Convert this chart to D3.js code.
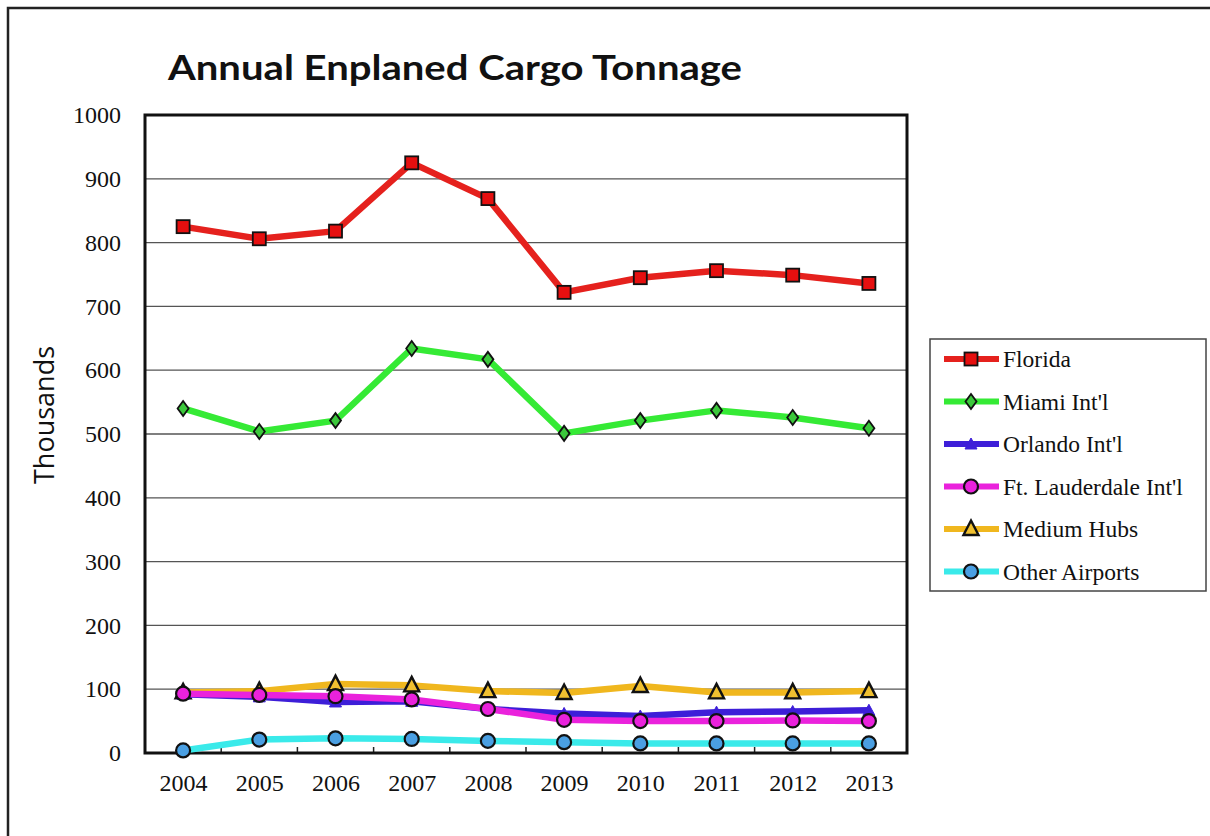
<!DOCTYPE html>
<html><head><meta charset="utf-8">
<script src="https://cdn.jsdelivr.net/npm/d3@7"></script>
<style>body{margin:0;background:#fff}svg{display:block}</style>
</head><body>
<svg id="c" width="1210" height="836"></svg>
<script>
const years = ["2004","2005","2006","2007","2008","2009","2010","2011","2012","2013"];
const florida = [825, 806, 818, 925, 869, 722, 745, 756, 749, 736];
const miami = [540, 504, 521, 634, 617, 501, 521, 537, 526, 509];
const orlando = [92, 88, 80, 81, 69, 62, 58, 64, 65, 67];
const lauderdale = [93, 91, 89, 84, 69, 52, 50, 50, 51, 50];
const mediumHubs = [95, 97, 108, 106, 97, 94, 105, 95, 95, 97];
const otherAirports = [4, 21, 23, 22, 19, 17, 15, 15, 15, 15];
const yTicks = [0,100,200,300,400,500,600,700,800,900,1000];
const seriesNames = ["Florida","Miami Int'l","Orlando Int'l","Ft. Lauderdale Int'l","Medium Hubs","Other Airports"];

const series = [
  {name: seriesNames[0], values: florida, line:"#e5211d", fill:"#e60f0f", sym:"square"},
  {name: seriesNames[1], values: miami, line:"#35ea35", fill:"#3cc83c", sym:"diamond"},
  {name: seriesNames[2], values: orlando, line:"#3d1ed8", fill:"#3d1ed8", sym:"smalltri"},
  {name: seriesNames[3], values: lauderdale, line:"#ea22dc", fill:"#ea22dc", sym:"circle"},
  {name: seriesNames[4], values: mediumHubs, line:"#f0b71e", fill:"#f0c030", sym:"triangle"},
  {name: seriesNames[5], values: otherAirports, line:"#3aeaea", fill:"#4a9fe2", sym:"circle"}
];

const svg = d3.select("#c");
const L = 145, R = 907, T = 115, B = 753;
const x = d3.scalePoint().domain(years).range([L, R]).padding(0.5);
const y = d3.scaleLinear().domain([0, 1000]).range([B, T]);

// outer frame
svg.append("rect").attr("x",8).attr("y",8).attr("width",1220).attr("height",840)
  .attr("fill","none").attr("stroke","#222").attr("stroke-width",2.5);

// title
svg.append("text").attr("x",168).attr("y",80).attr("font-family","Lato, 'Open Sans', sans-serif")
  .attr("font-weight","bold").attr("font-size",34).attr("fill","#111")
  .attr("textLength",574).attr("lengthAdjust","spacingAndGlyphs")
  .text("Annual Enplaned Cargo Tonnage");

// gridlines
svg.append("g").selectAll("line").data(yTicks.filter(d=>d>0 && d<1000)).join("line")
  .attr("x1",L).attr("x2",R).attr("y1",d=>y(d)).attr("y2",d=>y(d))
  .attr("stroke","#555").attr("stroke-width",1.3);

// y axis labels
const yAxis = d3.axisLeft(y).tickValues(yTicks).tickSize(0).tickPadding(24).tickFormat(d3.format("d"));
const gy = svg.append("g").attr("transform",`translate(${L},0)`).call(yAxis);
gy.select(".domain").remove();
gy.selectAll("text").attr("font-family","'Liberation Serif', serif").attr("font-size",24).attr("fill","#111");

// x axis
const xAxis = d3.axisBottom(x).tickSize(0).tickPadding(21);
const gx = svg.append("g").attr("transform",`translate(0,${B})`).call(xAxis);
gx.select(".domain").remove();
gx.selectAll("text").attr("font-family","'Liberation Serif', serif").attr("font-size",24).attr("fill","#111");
// inward ticks between categories
const step = x.step();
svg.append("g").selectAll("line").data(years.slice(1)).join("line")
  .attr("x1",d=>x(d)-step/2).attr("x2",d=>x(d)-step/2).attr("y1",B).attr("y2",B-6)
  .attr("stroke","#222").attr("stroke-width",1.5);

// plot frame
svg.append("rect").attr("x",L).attr("y",T).attr("width",R-L).attr("height",B-T)
  .attr("fill","none").attr("stroke","#111").attr("stroke-width",3);

// y title
svg.append("text").attr("transform","translate(54,415) rotate(-90)").attr("text-anchor","middle")
  .attr("font-family","'Open Sans', sans-serif").attr("font-size",27).attr("fill","#111").text("Thousands");

function drawMarker(g, sym, fill, cx, cy){
  if(sym==="square"){
    g.append("rect").attr("x",cx-6.5).attr("y",cy-6.5).attr("width",13).attr("height",13)
      .attr("fill",fill).attr("stroke","#111").attr("stroke-width",1.8);
  } else if(sym==="diamond"){
    g.append("path").attr("d",`M${cx},${cy-7.5}L${cx+5.5},${cy}L${cx},${cy+7.5}L${cx-5.5},${cy}Z`)
      .attr("fill",fill).attr("stroke","#111").attr("stroke-width",1.8);
  } else if(sym==="circle"){
    g.append("circle").attr("cx",cx).attr("cy",cy).attr("r",7)
      .attr("fill",fill).attr("stroke","#111").attr("stroke-width",2.2);
  } else if(sym==="triangle"){
    g.append("path").attr("d",`M${cx},${cy-8.5}L${cx+7.5},${cy+6}L${cx-7.5},${cy+6}Z`)
      .attr("fill",fill).attr("stroke","#111").attr("stroke-width",2.4);
  } else if(sym==="smalltri"){
    g.append("path").attr("d",`M${cx},${cy-6}L${cx+6},${cy+5}L${cx-6},${cy+5}Z`)
      .attr("fill",fill).attr("stroke",fill).attr("stroke-width",1);
  }
}

const line = d3.line().x((d,i)=>x(years[i])).y(d=>y(d));
const drawOrder = [5,4,2,3,1,0];
drawOrder.forEach(k=>{
  const s = series[k];
  const g = svg.append("g");
  g.append("path").datum(s.values).attr("d",line).attr("fill","none")
    .attr("stroke",s.line).attr("stroke-width",6.5).attr("stroke-linejoin","round");
  s.values.forEach((v,i)=>drawMarker(g, s.sym, s.fill, x(years[i]), y(v)));
});

// legend
const lg = svg.append("g");
lg.append("rect").attr("x",930).attr("y",339).attr("width",276).attr("height",252)
  .attr("fill","#fff").attr("stroke","#444").attr("stroke-width",1.5);
series.forEach((s,i)=>{
  const ly = 359 + i*42.5;
  lg.append("line").attr("x1",944).attr("x2",999).attr("y1",ly).attr("y2",ly)
    .attr("stroke",s.line).attr("stroke-width",6);
  drawMarker(lg, s.sym, s.fill, 971, ly);
  lg.append("text").attr("x",1003).attr("y",ly+8).attr("font-family","'Liberation Serif', serif")
    .attr("font-size",23.5).attr("fill","#111").text(s.name);
});
</script>
</body></html>
